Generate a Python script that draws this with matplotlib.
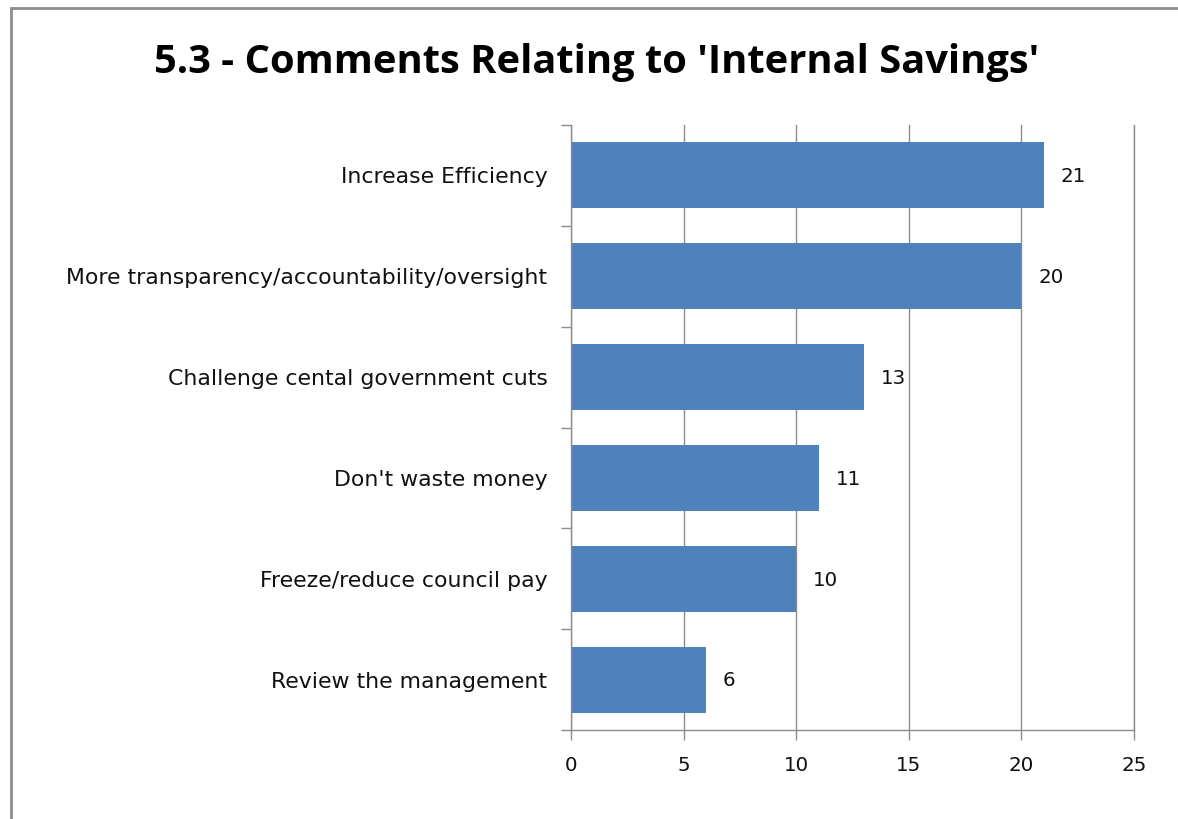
import matplotlib
matplotlib.use("Agg")
import matplotlib.pyplot as plt
from matplotlib.patches import Rectangle
import numpy as np

categories = [
    "Increase Efficiency",
    "More transparency/accountability/oversight",
    "Challenge cental government cuts",
    "Don't waste money",
    "Freeze/reduce council pay",
    "Review the management",
]
counts = [21, 20, 13, 11, 10, 6]
x_ticks = [0, 5, 10, 15, 20, 25]
title = "5.3 - Comments Relating to 'Internal Savings'"

plt.rcParams["font.family"] = ["DejaVu Sans"]

W, H = 1178, 819
fig = plt.figure(figsize=(W / 100, H / 100), dpi=100)
fig.patch.set_facecolor("white")

# outer chart frame (runs off the right and bottom edges)
fig.add_artist(Rectangle((11 / W, -0.05), 1.2, 1 - 8 / H + 0.05,
                         transform=fig.transFigure, fill=False,
                         edgecolor="#8c8c8c", linewidth=2))

ax = fig.add_axes([571 / W, 89 / H, (1134 - 571) / W, (730 - 125) / H])

n = len(categories)
y = np.arange(n)
ax.barh(y, counts, height=0.655, color="#4F81BD", zorder=3)
ax.set_ylim(n - 0.5, -0.5)
ax.set_xlim(0, 25)

num_size = 14.3
cat_size = 15.8
for yi, v in zip(y, counts):
    ax.annotate(str(v), (v, yi), xytext=(12, -1), textcoords="offset points",
                va="center", ha="left", fontsize=num_size, color="#111111")

ax.set_xticks(x_ticks)
ax.set_xticklabels([str(t) for t in x_ticks], fontsize=num_size, color="#111111")
ax.xaxis.grid(True, color="#8c8c8c", linewidth=1, zorder=0)
ax.tick_params(axis="x", length=7, width=1, color="#8c8c8c", pad=12)

ax.set_yticks(y)
ax.set_yticklabels(categories, fontsize=cat_size, color="#111111")
ax.set_yticks(np.arange(-0.5, n + 0.5, 1), minor=True)
ax.tick_params(axis="y", which="major", length=0, pad=17)
ax.tick_params(axis="y", which="minor", length=7, width=1, color="#8c8c8c")

ax.spines["top"].set_visible(False)
for side in ["left", "bottom", "right"]:
    ax.spines[side].set_color("#8c8c8c")
    ax.spines[side].set_linewidth(1)
    ax.spines[side].set_zorder(4)

fig.text(597 / W, 1 - 62 / H, title, ha="center", va="center",
         fontsize=28.7, fontweight="bold", color="black",
         family=["Open Sans", "DejaVu Sans"])

fig.savefig("out.png", dpi=100, facecolor="white")
